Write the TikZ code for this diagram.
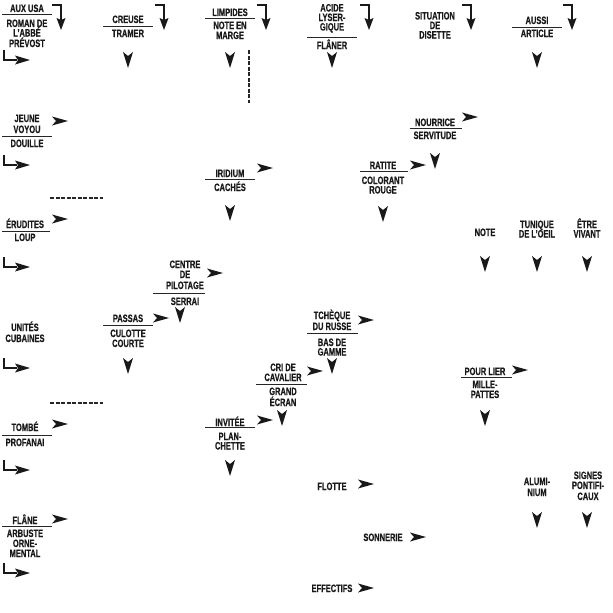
\documentclass[tikz,border=0pt]{standalone}
\usepackage{fontspec}
\setmainfont{Liberation Sans}[FakeStretch=0.70, FakeBold=0.5]
\begin{document}
\begin{tikzpicture}[x=1pt,y=-1pt,
  clue/.style={font=\fontsize{10.7}{10}\selectfont\bfseries, inner sep=0pt, anchor=base, text=black!90},
  sep/.style={line width=0.8pt, black!85},
  wsep/.style={line width=1.6pt, dash pattern=on 4pt off 1.5pt, black!85},
  rarr/.pic={\fill[black!90] (0,-4.5) -- (16,0) -- (0,4.5) -- (4,0) -- cycle;},
  darr/.pic={\fill[black!90] (-5,0) -- (0,16) -- (5,0) -- (0,4) -- cycle;},
  tbent/.pic={\draw[line width=1.4pt, black!90] (0,0) -- (9,0) -- (9,15);
              \fill[black!90] (4.5,13) -- (9,25) -- (13.5,13) -- (9,15) -- cycle;},
  lbent/.pic={\draw[line width=1.4pt, black!90] (0,0) -- (0,10) -- (13,10);
              \fill[black!90] (11,5.5) -- (26,10) -- (11,14.5) -- (14,10) -- cycle;}
]
\fill[white] (0,0) rectangle (613,613);
\useasboundingbox (0,0) rectangle (613,613);
% ---- row 0
\node[clue] (t1) at (27,12) {AUX USA};
\draw[sep] (2,14) -- (52,14);
\node[clue] (t2) at (27,27) {ROMAN DE};
\node[clue] (t3) at (27,36.5) {L'ABBÉ};
\node[clue] (t4) at (27,47) {PRÉVOST};
\node[clue] (t5) at (128,23) {CREUSE};
\draw[sep] (103,26) -- (153,26);
\node[clue] (t6) at (128,37) {TRAMER};
\node[clue] (t7) at (230,16) {LIMPIDES};
\draw[sep] (205,18) -- (255,18);
\node[clue] (t8) at (230,29) {NOTE EN};
\node[clue] (t9) at (230,39) {MARGE};
\node[clue] (t10) at (332,11.5) {ACIDE};
\node[clue] (t11) at (332,21) {LYSER-};
\node[clue] (t12) at (332,30.5) {GIQUE};
\draw[sep] (307,37) -- (357,37);
\node[clue] (t13) at (332,49) {FLÂNER};
\node[clue] (t14) at (435,19.5) {SITUATION};
\node[clue] (t15) at (435,29) {DE};
\node[clue] (t16) at (435,38.5) {DISETTE};
\node[clue] (t17) at (537,24) {AUSSI};
\draw[sep] (512,27) -- (562,27);
\node[clue] (t18) at (537,37) {ARTICLE};
% ---- row 2
\node[clue] (t19) at (27,122) {JEUNE};
\node[clue] (t20) at (27,133) {VOYOU};
\draw[sep] (2,136) -- (52,136);
\node[clue] (t21) at (27,147) {DOUILLE};
\node[clue] (t22) at (435,126) {NOURRICE};
\draw[sep] (410,128) -- (462,128);
\node[clue] (t23) at (435,139) {SERVITUDE};
% ---- row 3
\node[clue] (t24) at (230,177) {IRIDIUM};
\draw[sep] (205,179) -- (255,179);
\node[clue] (t25) at (230,191) {CACHÉS};
\node[clue] (t26) at (383,169) {RATITE};
\draw[sep] (360,171) -- (408,171);
\node[clue] (t27) at (383,184) {COLORANT};
\node[clue] (t28) at (383,193.5) {ROUGE};
% ---- row 4
\node[clue] (t29) at (25,228) {ÉRUDITES};
\draw[sep] (2,231) -- (50,231);
\node[clue] (t30) at (25,241) {LOUP};
\node[clue] (t31) at (485,236) {NOTE};
\node[clue] (t32) at (537,228) {TUNIQUE};
\node[clue] (t33) at (537,237.5) {DE L'OEIL};
\node[clue] (t34) at (587,228) {ÊTRE};
\node[clue] (t35) at (587,237.5) {VIVANT};
% ---- row 5
\node[clue] (t36) at (185,268) {CENTRE};
\node[clue] (t37) at (185,278) {DE};
\node[clue] (t38) at (185,289) {PILOTAGE};
\draw[sep] (153,293) -- (205,293);
\node[clue] (t39) at (185,305) {SERRAI};
% ---- row 6
\node[clue] (t40) at (25,331) {UNITÉS};
\node[clue] (t41) at (25,342) {CUBAINES};
\node[clue] (t42) at (128,322) {PASSAS};
\draw[sep] (103,325) -- (153,325);
\node[clue] (t43) at (128,337) {CULOTTE};
\node[clue] (t44) at (128,347) {COURTE};
\node[clue] (t45) at (332,319) {TCHÈQUE};
\node[clue] (t46) at (332,330) {DU RUSSE};
\draw[sep] (307,333) -- (358,333);
\node[clue] (t47) at (332,346) {BAS DE};
\node[clue] (t48) at (332,355.5) {GAMME};
% ---- row 7
\node[clue] (t49) at (283,371) {CRI DE};
\node[clue] (t50) at (283,381) {CAVALIER};
\draw[sep] (256,384) -- (307,384);
\node[clue] (t51) at (283,395) {GRAND};
\node[clue] (t52) at (283,406) {ÉCRAN};
\node[clue] (t53) at (485,375) {POUR LIER};
\draw[sep] (461,377) -- (512,377);
\node[clue] (t54) at (485,388) {MILLE-};
\node[clue] (t55) at (485,398) {PATTES};
% ---- row 8
\node[clue] (t56) at (25,431) {TOMBÉ};
\draw[sep] (2,435) -- (52,435);
\node[clue] (t57) at (25,446) {PROFANAI};
\node[clue] (t58) at (230,426) {INVITÉE};
\draw[sep] (205,427) -- (255,427);
\node[clue] (t59) at (230,440) {PLAN-};
\node[clue] (t60) at (230,449.5) {CHETTE};
% ---- row 9
\node[clue] (t61) at (332,490) {FLOTTE};
\node[clue] (t62) at (537,485) {ALUMI-};
\node[clue] (t63) at (537,496) {NIUM};
\node[clue] (t64) at (588,479) {SIGNES};
\node[clue] (t65) at (588,489) {PONTIFI-};
\node[clue] (t66) at (588,500) {CAUX};
% ---- row 10
\node[clue] (t67) at (25,524) {FLÂNE};
\draw[sep] (2,526) -- (52,526);
\node[clue] (t68) at (25,537) {ARBUSTE};
\node[clue] (t69) at (25,547) {ORNE-};
\node[clue] (t70) at (25,557) {MENTAL};
\node[clue] (t71) at (383,541) {SONNERIE};
% ---- row 11
\node[clue] (t72) at (332,592) {EFFECTIFS};
% ---- right arrows
\foreach \p in {(52,121),(52,219),(52,424),(52,519),(257,168),(207,273),(153,318),
  (462,117),(410,165),(358,320),(307,371),(257,420),(512,370),(358,484),(410,537),(358,588)}
  \pic at \p {rarr};
% ---- down arrows
\foreach \p in {(128,52),(230,52),(332,52),(537,52),(230,205),(435,153),(383,206),
  (485,256),(537,256),(587,256),(180,307),(128,358),(332,358),(282,410),(485,410),
  (230,460),(537,512),(587,512)}
  \pic at \p {darr};
% ---- bent arrows
\foreach \x in {52,155,257,360,462,563} \pic at (\x,5) {tbent};
\foreach \y in {50,155,257,358,460,563} \pic at (4,\y) {lbent};
% ---- word separators
\draw[wsep] (249,50) -- (249,103);
\draw[wsep] (50,198) -- (103,198);
\draw[wsep] (50,403) -- (103,403);
\end{tikzpicture}
\end{document}
